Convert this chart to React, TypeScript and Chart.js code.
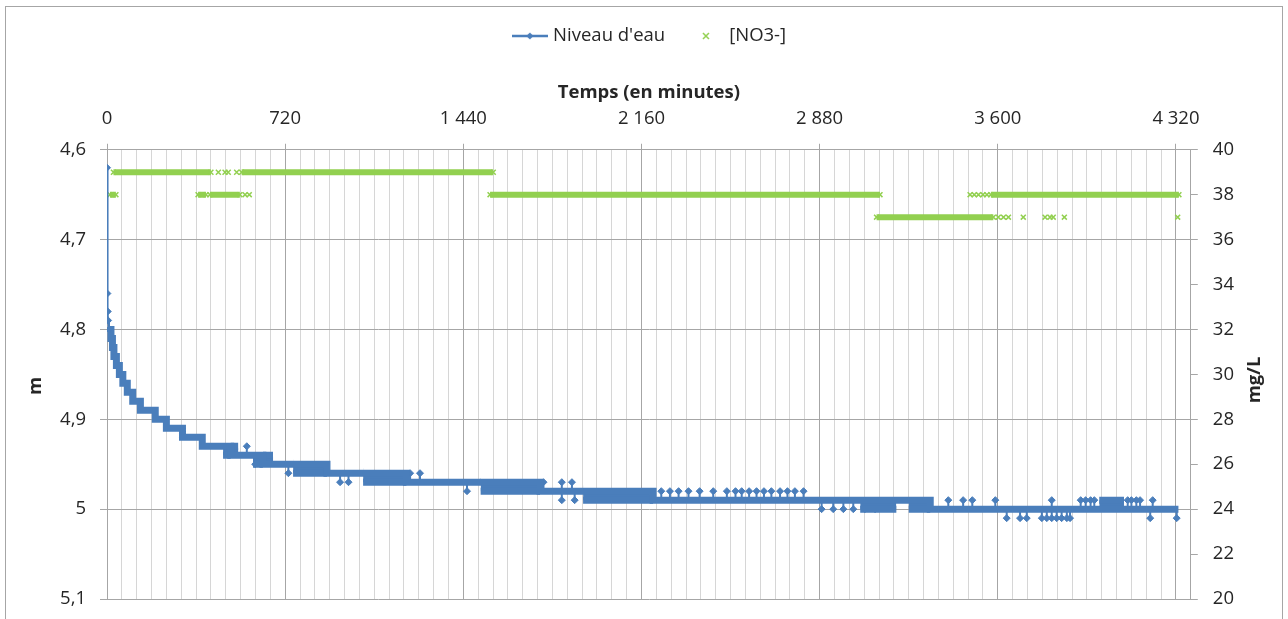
import React, { useEffect, useRef } from 'react';
import { Chart, registerables } from 'chart.js';

Chart.register(...registerables);

const BLUE = '#4A7EBB';
const GREEN = '#92D050';
const GRID_MAJOR = '#A6A6A6';
const GRID_MINOR = '#D6D6D6';
const TEXT = '#262626';
const FONT = "'Open Sans', sans-serif";
const FS = 18.5;

// Time axis (minutes)
const timeMin = 0;
const timeMax = 4380;
const timeTickStep = 60;
const timeLabelStep = 720;

// Left axis (m, reversed) and right axis (mg/L)
const levelMin = 4.6;
const levelMax = 5.1;
const levelStep = 0.1;
const no3Min = 20;
const no3Max = 40;
const no3Step = 2;

// Niveau d'eau : initial drawdown points
const earlyTimes = [0, 1.5, 3, 4.5, 8];
const earlyLevels = [4.62, 4.76, 4.78, 4.79, 4.8];

// Niveau d'eau : plateau start times and levels
const stepTimes = [8, 16, 22, 28, 38, 50, 64, 82, 104, 135, 195, 240, 305, 385, 500, 630, 889, 1210, 1750, 2207, 3327];
const stepLevels = [4.8, 4.81, 4.82, 4.83, 4.84, 4.85, 4.86, 4.87, 4.88, 4.89, 4.9, 4.91, 4.92, 4.93, 4.94, 4.95, 4.96, 4.97, 4.98, 4.99, 5.0];
const levelEndTime = 4330;

// Niveau d'eau : periods alternating with the neighbouring level
const mixStarts = [469, 500, 590, 630, 752, 1035, 1510, 1924, 3044, 3240, 4010];
const mixEnds = [500, 530, 630, 671, 889, 1210, 1750, 2207, 3190, 3327, 4110];
const mixLevels = [4.94, 4.93, 4.95, 4.94, 4.96, 4.97, 4.98, 4.99, 5.0, 5.0, 4.99];

// Niveau d'eau : isolated readings
const spikeTimes = [565, 599, 733, 942, 976, 1225, 1265, 1455, 1764, 1838, 1838, 1879, 1890,
  2240, 2275, 2310, 2350, 2395, 2450, 2505, 2540, 2565, 2595, 2625, 2655, 2685, 2720, 2750, 2780, 2815,
  2888, 2935, 2976, 3016, 3063, 3104,
  3400, 3460, 3497, 3590, 3636, 3690, 3717, 3778, 3798, 3818, 3818, 3838, 3858, 3879, 3892,
  3935, 3955, 3975, 3990, 4125, 4140, 4160, 4175, 4216, 4226, 4323];
const spikeLevels = [4.93, 4.95, 4.96, 4.97, 4.97, 4.96, 4.96, 4.98, 4.97, 4.97, 4.99, 4.97, 4.99,
  4.98, 4.98, 4.98, 4.98, 4.98, 4.98, 4.98, 4.98, 4.98, 4.98, 4.98, 4.98, 4.98, 4.98, 4.98, 4.98, 4.98,
  5.0, 5.0, 5.0, 5.0, 5.0, 5.0,
  4.99, 4.99, 4.99, 4.99, 5.01, 5.01, 5.01, 5.01, 5.01, 5.01, 4.99, 5.01, 5.01, 5.01, 5.01,
  4.99, 4.99, 4.99, 4.99, 4.99, 4.99, 4.99, 4.99, 5.01, 4.99, 5.01];

// [NO3-] : continuous runs (start, end, value)
const no3RunStarts = [12, 26, 368, 416, 544, 1548, 3110, 3572];
const no3RunEnds = [36, 420, 400, 537, 1561, 3124, 3582, 4332];
const no3RunValues = [38, 39, 38, 38, 39, 38, 37, 38];

// [NO3-] : isolated readings
const no3PointTimes = [450, 477, 490, 524, 558, 575, 3488, 3505, 3522, 3540, 3556, 3602, 3623, 3643, 3703, 3791, 3811, 3824, 3869, 4327];
const no3PointValues = [39, 39, 39, 39, 38, 38, 38, 38, 38, 38, 38, 37, 37, 37, 37, 37, 37, 37, 37, 37];

function fmtThousands(v: number): string {
  return String(v).replace(/\B(?=(\d{3})+(?!\d))/g, ' ');
}
function fmtDecimal(v: number): string {
  return String(Math.round(v * 10) / 10).replace('.', ',');
}
function levelAt(t: number): number {
  let v = stepLevels[0];
  for (let i = 0; i < stepTimes.length; i++) if (stepTimes[i] <= t) v = stepLevels[i];
  return v;
}
function fixSize(s: any, w: number | null, h: number | null) {
  if (w !== null) s.width = w;
  if (h !== null) s.height = h;
  s.paddingTop = 0;
  s.paddingBottom = 0;
  s.paddingLeft = 0;
  s.paddingRight = 0;
}

export default function App() {
  const ref = useRef<HTMLCanvasElement>(null);

  useEffect(() => {
    document.body.style.margin = '0';
    const canvas = ref.current;
    if (!canvas) return;

    const levelIcon = document.createElement('canvas');
    levelIcon.width = 36;
    levelIcon.height = 10;
    {
      const c = levelIcon.getContext('2d')!;
      c.strokeStyle = BLUE;
      c.lineWidth = 2.5;
      c.beginPath();
      c.moveTo(0, 5);
      c.lineTo(36, 5);
      c.stroke();
      c.fillStyle = BLUE;
      c.beginPath();
      c.moveTo(18, 1.5);
      c.lineTo(21.5, 5);
      c.lineTo(18, 8.5);
      c.lineTo(14.5, 5);
      c.closePath();
      c.fill();
    }
    const no3Icon = document.createElement('canvas');
    no3Icon.width = 10;
    no3Icon.height = 10;
    {
      const c = no3Icon.getContext('2d')!;
      c.strokeStyle = GREEN;
      c.lineWidth = 1.5;
      c.beginPath();
      c.moveTo(2, 2);
      c.lineTo(8, 8);
      c.moveTo(8, 2);
      c.lineTo(2, 8);
      c.stroke();
    }

    const earlyData = earlyTimes.map((t, i) => ({ x: t, y: earlyLevels[i] }));
    const pathData: { x: number; y: number | null }[] = [];
    stepTimes.forEach((t, i) => {
      const end = i + 1 < stepTimes.length ? stepTimes[i + 1] : levelEndTime;
      pathData.push({ x: t, y: stepLevels[i] });
      pathData.push({ x: end, y: stepLevels[i] });
    });
    const mixData: { x: number; y: number | null }[] = [];
    mixStarts.forEach((s, i) => {
      mixData.push({ x: s, y: mixLevels[i] });
      mixData.push({ x: mixEnds[i], y: mixLevels[i] });
      mixData.push({ x: mixEnds[i], y: null });
    });
    const spikeData: { x: number; y: number | null }[] = [];
    spikeTimes.forEach((t, i) => {
      spikeData.push({ x: t, y: levelAt(t) });
      spikeData.push({ x: t, y: spikeLevels[i] });
      spikeData.push({ x: t, y: null });
    });
    const no3RunData: { x: number; y: number | null }[] = [];
    no3RunStarts.forEach((s, i) => {
      no3RunData.push({ x: s, y: no3RunValues[i] });
      no3RunData.push({ x: no3RunEnds[i], y: no3RunValues[i] });
      no3RunData.push({ x: no3RunEnds[i], y: null });
    });
    const no3PointData = no3PointTimes.map((t, i) => ({ x: t, y: no3PointValues[i] }));

    Chart.defaults.font.family = FONT;
    Chart.defaults.font.size = FS;
    Chart.defaults.color = TEXT;

    const decor = {
      id: 'decor',
      beforeDraw(chart: any) {
        const ctx = chart.ctx;
        ctx.save();
        ctx.strokeStyle = '#A6A6A6';
        ctx.lineWidth = 1;
        ctx.strokeRect(5.5, 6.5, 1277, 660);
        ctx.restore();
      },
      afterDraw(chart: any) {
        const ctx = chart.ctx;
        ctx.save();
        ctx.fillStyle = TEXT;
        ctx.font = `bold ${FS}px ${FONT}`;
        ctx.textAlign = 'center';
        ctx.textBaseline = 'middle';
        ctx.translate(35.5, 386);
        ctx.rotate(-Math.PI / 2);
        ctx.fillText('m', 0, 0);
        ctx.restore();
        ctx.save();
        ctx.fillStyle = TEXT;
        ctx.font = `bold ${FS}px ${FONT}`;
        ctx.textAlign = 'center';
        ctx.textBaseline = 'middle';
        ctx.translate(1255, 380);
        ctx.rotate(-Math.PI / 2);
        ctx.fillText('mg/L', 0, 0);
        ctx.restore();
      },
    };

    const chart = new Chart(canvas, {
      type: 'line',
      data: {
        datasets: [
          {
            label: "Niveau d'eau",
            data: earlyData,
            yAxisID: 'y',
            borderColor: BLUE,
            backgroundColor: BLUE,
            borderWidth: 2,
            pointStyle: 'rectRot',
            pointRadius: 3.5,
            pointBorderWidth: 1,
            fill: false,
          },
          {
            label: 'level-path',
            data: pathData,
            yAxisID: 'y',
            borderColor: BLUE,
            borderWidth: 7,
            pointRadius: 0,
            borderJoinStyle: 'miter',
            fill: false,
          },
          {
            label: 'level-mix',
            data: mixData,
            yAxisID: 'y',
            borderColor: BLUE,
            backgroundColor: BLUE,
            borderWidth: 7,
            pointRadius: 0,
            spanGaps: false,
            fill: 1,
          },
          {
            label: 'level-spikes',
            data: spikeData,
            yAxisID: 'y',
            borderColor: BLUE,
            backgroundColor: BLUE,
            borderWidth: 2,
            spanGaps: false,
            pointStyle: 'rectRot',
            pointRadius: (c: any) => (c.dataIndex % 3 === 1 ? 3.5 : 0),
            pointBorderWidth: 1,
            fill: false,
          },
          {
            label: 'no3-runs',
            data: no3RunData,
            yAxisID: 'y2',
            borderColor: GREEN,
            backgroundColor: GREEN,
            borderWidth: 6,
            spanGaps: false,
            pointStyle: 'crossRot',
            pointRadius: (c: any) => (c.raw && c.raw.y != null ? 3.5 : 0),
            pointBorderColor: GREEN,
            pointBorderWidth: 1.5,
            fill: false,
          },
          {
            label: '[NO3-]',
            data: no3PointData,
            yAxisID: 'y2',
            showLine: false,
            borderColor: GREEN,
            backgroundColor: GREEN,
            pointStyle: 'crossRot',
            pointRadius: 3.5,
            pointBorderColor: GREEN,
            pointBorderWidth: 1.5,
          },
        ] as any,
      },
      options: {
        animation: false,
        responsive: false,
        events: [],
        layout: { autoPadding: false, padding: { top: 0, left: 14, right: 0, bottom: 20 } },
        elements: { line: { tension: 0 } },
        plugins: {
          tooltip: { enabled: false },
          title: { display: false },
          filler: { propagate: false },
          legend: {
            display: true,
            position: 'top',
            labels: {
              usePointStyle: true,
              pointStyleWidth: 28,
              padding: 26.75,
              color: TEXT,
              font: { family: FONT, size: FS },
              generateLabels: () => [
                { text: "Niveau d'eau", pointStyle: levelIcon, datasetIndex: 0, hidden: false, lineWidth: 0, fontColor: TEXT } as any,
                { text: '[NO3-]', pointStyle: no3Icon, datasetIndex: 5, hidden: false, lineWidth: 0, fontColor: TEXT } as any,
              ],
            },
          },
        },
        scales: {
          x: {
            type: 'linear',
            position: 'top',
            min: timeMin,
            max: timeMax,
            afterFit: (s: any) => fixSize(s, null, 94.5),
            ticks: {
              stepSize: timeTickStep,
              autoSkip: false,
              maxRotation: 0,
              minRotation: 0,
              padding: 14,
              color: TEXT,
              font: { size: FS },
              callback: (v: any) => (Number(v) % timeLabelStep === 0 ? fmtThousands(Number(v)) : ''),
            },
            grid: {
              color: (c: any) => (c.tick && c.tick.value % timeLabelStep === 0 ? GRID_MAJOR : GRID_MINOR),
              tickColor: (c: any) => (c.tick && c.tick.value % timeLabelStep === 0 ? GRID_MAJOR : 'rgba(0,0,0,0)'),
              tickLength: 6,
              lineWidth: 1,
            },
            border: { color: GRID_MAJOR },
            title: {
              display: true,
              text: 'Temps (en minutes)',
              color: TEXT,
              font: { size: FS, weight: 'bold' },
              padding: { top: 26.4, bottom: 0 },
            },
          },
          y: {
            type: 'linear',
            position: 'left',
            reverse: true,
            min: levelMin,
            max: levelMax,
            afterFit: (s: any) => fixSize(s, 93, null),
            ticks: {
              stepSize: levelStep,
              padding: 14,
              color: TEXT,
              font: { size: FS },
              callback: (v: any) => fmtDecimal(Number(v)),
            },
            grid: { color: GRID_MAJOR, tickLength: 7, lineWidth: 1 },
            border: { color: GRID_MAJOR },
          },
          y2: {
            type: 'linear',
            position: 'right',
            min: no3Min,
            max: no3Max,
            afterFit: (s: any) => fixSize(s, 97.2, null),
            ticks: {
              stepSize: no3Step,
              padding: 15,
              color: TEXT,
              font: { size: FS },
            },
            grid: { drawOnChartArea: false, color: GRID_MAJOR, tickLength: 7, lineWidth: 1 },
            border: { color: GRID_MAJOR },
          },
        },
      } as any,
      plugins: [decor],
    });

    return () => {
      chart.destroy();
    };
  }, []);

  return (
    <canvas
      ref={ref}
      width={1288}
      height={619}
      style={{ display: 'block', width: '1288px', height: '619px' }}
    />
  );
}
